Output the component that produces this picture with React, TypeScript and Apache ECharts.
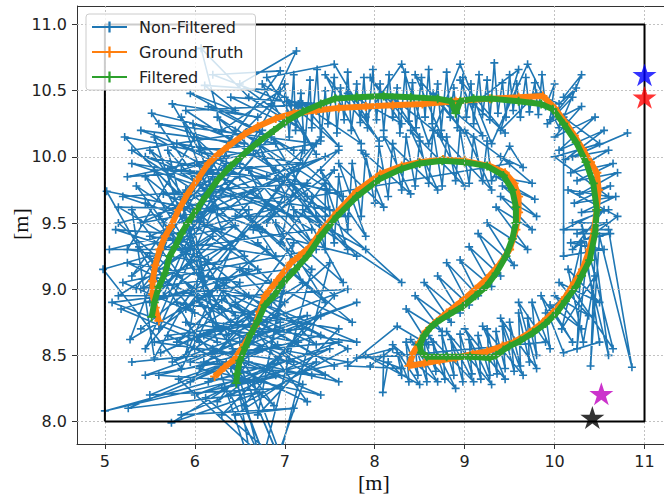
import React, { useEffect, useRef } from "react";
import * as echarts from "echarts";

const xTicks = [5, 6, 7, 8, 9, 10, 11];
const yTicks = [8.0, 8.5, 9.0, 9.5, 10.0, 10.5, 11.0];

const groundTruth: number[][] = [
  [5.6, 8.76], [5.56, 8.86], [5.53, 8.96], [5.53, 9.06], [5.56, 9.18], [5.61, 9.3], [5.67, 9.4], [5.73, 9.47],
  [5.82, 9.6], [5.92, 9.72], [6.03, 9.83], [6.15, 9.95], [6.26, 10.02], [6.37, 10.08], [6.55, 10.17], [6.7, 10.23],
  [6.9, 10.29], [7.1, 10.33], [7.35, 10.35], [7.6, 10.37], [7.9, 10.38], [8.2, 10.39], [8.53, 10.4], [8.9, 10.42],
  [9.28, 10.44], [9.6, 10.45], [9.87, 10.46], [10.0, 10.37], [10.12, 10.26], [10.22, 10.16], [10.31, 10.06],
  [10.4, 9.96], [10.47, 9.88], [10.49, 9.75], [10.47, 9.6], [10.44, 9.45], [10.39, 9.3], [10.31, 9.15],
  [10.22, 9.05], [10.12, 8.94], [10.02, 8.85], [9.87, 8.75], [9.72, 8.67], [9.55, 8.6], [9.42, 8.57],
  [9.25, 8.53], [9.09, 8.51], [8.9, 8.48], [8.72, 8.46], [8.55, 8.44], [8.38, 8.42], [8.43, 8.52], [8.5, 8.6],
  [8.57, 8.68], [8.66, 8.74], [8.8, 8.82], [8.95, 8.9], [9.12, 9.0], [9.25, 9.08], [9.38, 9.18], [9.5, 9.3],
  [9.57, 9.45], [9.6, 9.58], [9.6, 9.7], [9.55, 9.8], [9.45, 9.88], [9.28, 9.93], [9.0, 9.97], [8.76, 9.98],
  [8.5, 9.96], [8.3, 9.93], [8.06, 9.87], [7.8, 9.74], [7.58, 9.58], [7.42, 9.45], [7.28, 9.32], [7.16, 9.25],
  [7.07, 9.2], [6.92, 9.07], [6.78, 8.95], [6.72, 8.83], [6.67, 8.72], [6.55, 8.58], [6.44, 8.47], [6.33, 8.41],
  [6.22, 8.34],
];

const filtered: number[][] = [
  [5.52, 8.79], [5.55, 8.9], [5.6, 9.02], [5.67, 9.12], [5.72, 9.25], [5.78, 9.32], [5.85, 9.42], [5.92, 9.5],
  [6.02, 9.6], [6.12, 9.7], [6.26, 9.83], [6.4, 9.93], [6.56, 10.03], [6.72, 10.12], [6.88, 10.2], [7.02, 10.27],
  [7.2, 10.34], [7.4, 10.4], [7.56, 10.44], [7.8, 10.45], [8.1, 10.46], [8.4, 10.45], [8.7, 10.44], [8.85, 10.42],
  [8.9, 10.33], [8.95, 10.42], [9.1, 10.44], [9.3, 10.44], [9.6, 10.42], [9.85, 10.4], [9.98, 10.36], [10.1, 10.25],
  [10.24, 10.11], [10.35, 9.96], [10.43, 9.8], [10.47, 9.6], [10.45, 9.42], [10.39, 9.22], [10.3, 9.1],
  [10.24, 9.02], [10.12, 8.91], [10.02, 8.82], [9.9, 8.74], [9.76, 8.67], [9.62, 8.61], [9.5, 8.57], [9.43, 8.54],
  [9.35, 8.5], [9.28, 8.48], [9.06, 8.49], [8.8, 8.49], [8.58, 8.49], [8.52, 8.52], [8.5, 8.58], [8.55, 8.65],
  [8.62, 8.71], [8.69, 8.75], [8.83, 8.81], [8.98, 8.87], [9.12, 8.95], [9.24, 9.02], [9.35, 9.12], [9.46, 9.25],
  [9.53, 9.38], [9.57, 9.5], [9.57, 9.62], [9.53, 9.75], [9.43, 9.86], [9.25, 9.93], [9.0, 9.96], [8.75, 9.97],
  [8.5, 9.95], [8.3, 9.91], [8.05, 9.83], [7.8, 9.7], [7.58, 9.55], [7.4, 9.4], [7.25, 9.25], [7.12, 9.15],
  [6.98, 9.05], [6.88, 8.95], [6.78, 8.88], [6.7, 8.76], [6.62, 8.66], [6.56, 8.56], [6.5, 8.46], [6.47, 8.36],
  [6.46, 8.29],
];

const nonFilteredStart: number[][] = [
  [5.4, 8.7], [5.95, 9.0], [5.18, 8.85], [6.05, 8.6], [5.5, 9.25], [4.98, 9.15], [5.85, 8.4], [6.35, 9.05],
  [5.28, 8.62], [5.72, 9.42], [5.12, 9.45], [6.15, 9.22], [5.55, 8.48], [5.3, 9.6], [6.25, 8.72], [5.88, 9.62],
  [5.02, 9.74], [5.62, 9.02], [6.45, 9.48], [5.38, 9.32], [6.0, 8.82], [5.2, 9.05], [6.55, 9.25], [5.45, 9.85],
  [5.95, 9.3], [5.15, 9.62], [6.6, 9.6], [5.7, 9.2], [6.2, 9.85], [5.3, 9.95], [6.4, 9.7], [5.65, 9.72],
  [6.75, 9.45], [5.5, 10.05], [6.1, 9.5], [5.22, 10.15], [6.35, 10.0], [5.85, 9.9], [6.8, 9.85], [5.4, 10.2],
  [6.55, 10.1], [5.98, 10.25], [6.25, 9.6], [5.52, 10.33], [6.9, 10.1], [6.05, 10.05], [5.75, 10.4], [6.7, 10.3],
  [6.15, 10.38], [7.1, 10.05], [5.95, 10.48], [6.45, 10.35], [6.11, 10.54], [6.95, 10.5], [6.3, 10.2],
  [6.07, 10.82], [6.6, 10.45], [7.2, 10.2], [6.5, 10.55], [7.13, 10.8], [6.85, 10.4],
];

const nonFilteredStartExtra: number[][] = [
  [5.6, 9.55], [6.3, 8.85], [5.25, 9.2], [6.5, 9.05], [5.8, 8.6], [6.6, 8.95], [5.15, 8.95], [6.2, 9.4],
  [5.5, 8.9], [6.7, 9.15], [5.35, 9.78], [6.05, 9.15], [5.9, 8.5], [6.4, 9.3], [5.05, 9.3], [6.85, 9.6],
  [5.7, 9.9], [6.5, 9.85], [5.4, 9.5], [7.0, 9.7], [5.8, 10.1], [7.2, 9.95], [5.25, 9.85], [6.65, 10.05],
  [5.6, 10.25], [7.35, 10.1], [6.0, 9.95], [7.1, 9.55], [5.45, 10.0], [7.5, 9.75], [6.25, 10.3], [6.9, 9.9],
  [5.9, 10.35], [7.4, 10.4], [6.4, 10.45], [7.0, 10.25], [6.75, 10.55], [7.25, 10.35], [6.2, 10.62],
  [6.95, 10.65],
];

const nonFilteredLeftExtra: number[][] = [
  [5.3, 9.1], [6.2, 9.6], [5.6, 8.7], [6.8, 9.3], [5.45, 9.65], [6.4, 8.75], [5.15, 9.5], [6.65, 9.75],
  [5.75, 9.3], [7.3, 9.45], [5.55, 10.15], [6.15, 8.95], [5.9, 9.75], [7.05, 9.15], [5.35, 9.0], [6.45, 10.2],
  [5.65, 8.95], [7.25, 9.8], [5.2, 9.7], [6.3, 9.45], [5.85, 10.3], [6.9, 9.25], [5.5, 9.4], [7.45, 10.0],
  [6.1, 9.7], [5.3, 10.05], [6.75, 10.2], [5.95, 9.45], [7.15, 10.4], [5.4, 9.0], [6.55, 9.4], [5.7, 10.05],
  [6.25, 8.6], [5.08, 8.9], [6.85, 9.05], [5.55, 9.9], [6.45, 8.8], [5.8, 9.1], [7.35, 9.3], [6.0, 10.15],
  [5.25, 9.3], [6.6, 9.15], [5.9, 8.85], [7.1, 9.9], [5.45, 8.55], [6.35, 9.95], [5.65, 9.5], [6.95, 8.75],
  [5.75, 8.45], [7.2, 9.05],
  [6.6, 9.9], [7.3, 9.35], [6.7, 10.1], [7.5, 9.6], [6.55, 9.7], [7.6, 10.05], [6.8, 9.5], [7.4, 10.15],
  [6.9, 9.75], [7.7, 9.55], [6.45, 9.55], [7.2, 10.05], [6.95, 9.35], [7.55, 9.9], [6.65, 9.45], [7.8, 9.25],
  [7.0, 9.85], [7.45, 9.45], [6.75, 10.0], [7.9, 9.3], [7.1, 9.6], [8.3, 9.05], [7.25, 9.7], [6.85, 10.15],
  [7.65, 9.7], [6.5, 9.95],
];

const nonFilteredTop: number[][] = [
  [7.0, 10.55], [7.05, 10.15], [7.1, 10.62], [7.12, 10.2], [7.18, 10.48], [7.22, 10.05], [7.28, 10.58],
  [7.3, 10.22], [7.36, 10.66], [7.4, 10.12], [7.45, 10.5], [7.48, 10.25], [7.55, 10.6], [7.58, 10.18],
  [7.62, 10.52], [7.66, 10.28], [7.7, 10.64], [7.74, 10.2], [7.8, 10.55], [7.84, 10.26], [7.88, 10.6],
  [7.92, 10.22], [7.98, 10.66], [8.02, 10.28], [8.06, 10.55], [8.1, 10.2], [8.16, 10.62], [8.2, 10.3],
  [8.25, 10.52], [8.28, 10.18], [8.34, 10.64], [8.38, 10.27], [8.42, 10.56], [8.46, 10.22], [8.52, 10.6],
  [8.56, 10.3], [8.6, 10.66], [8.64, 10.25], [8.7, 10.55], [8.74, 10.2], [8.8, 10.64], [8.84, 10.3],
  [8.88, 10.52], [8.92, 10.22], [8.98, 10.6], [9.02, 10.3], [9.07, 10.55], [9.1, 10.25], [9.16, 10.62],
  [9.2, 10.32], [9.25, 10.58], [9.28, 10.28], [9.33, 10.71], [9.37, 10.33], [9.42, 10.56], [9.46, 10.3],
  [9.5, 10.62], [9.54, 10.35], [9.58, 10.55], [9.62, 10.3], [9.68, 10.6], [9.72, 10.34], [9.78, 10.56],
  [9.82, 10.32], [9.86, 10.62], [9.9, 10.38], [10.0, 10.55], [9.95, 10.28], [10.24, 10.52], [10.05, 10.4],
];

const nonFilteredTopExtra: number[][] = [
  [9.8, 10.48], [9.4, 10.2], [9.6, 10.66], [9.1, 10.4], [9.45, 10.18], [8.95, 10.58], [9.2, 10.16],
  [8.65, 10.48], [9.0, 10.18], [8.45, 10.62], [8.75, 10.15], [8.2, 10.45], [8.5, 10.15], [7.95, 10.6],
  [8.3, 10.25], [7.7, 10.48], [8.05, 10.12], [7.45, 10.62], [7.85, 10.1], [7.2, 10.4], [7.6, 10.08],
  [7.0, 10.45], [7.35, 10.02], [6.8, 10.6], [7.55, 10.7], [7.9, 10.3], [8.3, 10.7], [8.6, 10.1],
  [8.95, 10.7], [9.3, 10.1], [9.7, 10.7], [10.05, 10.22], [10.3, 10.62], [10.1, 10.45],
];

const nonFilteredRight: number[][] = [
  [10.2, 10.45], [9.92, 10.25], [10.3, 10.38], [10.0, 10.15], [10.45, 10.3], [10.05, 10.05], [10.55, 10.2],
  [10.12, 9.98], [10.81, 10.18], [10.2, 10.0], [10.6, 10.05], [10.18, 9.88], [10.65, 9.95], [10.25, 9.82],
  [10.7, 9.88], [10.28, 9.72], [10.62, 9.78], [10.22, 9.65], [10.68, 9.7], [10.3, 9.58], [10.6, 9.6],
  [10.2, 9.5], [10.58, 9.5], [10.25, 9.42], [10.62, 9.42], [10.18, 9.35], [10.55, 9.3], [10.1, 9.25],
  [10.1, 10.3], [10.5, 10.1], [10.0, 10.0], [10.6, 9.7], [10.15, 9.75], [10.7, 9.55], [10.2, 9.3],
  [10.55, 9.6], [10.1, 9.45],
  [10.6, 9.45], [10.86, 8.41], [10.5, 9.4], [10.4, 8.42], [10.45, 9.3], [10.6, 8.5], [10.35, 9.2],
  [10.25, 8.55], [10.3, 9.35], [10.08, 8.7], [10.45, 9.1], [10.32, 8.6], [10.15, 9.15], [10.5, 8.9],
  [10.05, 9.05], [10.38, 8.8], [10.0, 8.95], [10.3, 8.7], [9.95, 8.88], [10.2, 8.6], [9.85, 8.95], [10.1, 8.52],
  [10.5, 8.6], [10.3, 9.5], [10.65, 8.55], [10.2, 9.0],
];

const nonFilteredBottom: number[][] = [
  [9.9, 8.82], [9.95, 8.55], [9.75, 8.9], [9.8, 8.5], [9.7, 8.78], [9.72, 8.45], [9.6, 8.82], [9.62, 8.42],
  [9.5, 8.75], [9.55, 8.38], [9.42, 8.72], [9.45, 8.4], [9.35, 8.68], [9.36, 8.36], [9.25, 8.7], [9.28, 8.35],
  [9.15, 8.65], [9.18, 8.32], [9.05, 8.62], [9.08, 8.36], [8.95, 8.66], [8.98, 8.3], [8.85, 8.62], [8.88, 8.35],
  [8.75, 8.65], [8.78, 8.32], [8.65, 8.6], [8.68, 8.38], [8.55, 8.62], [8.58, 8.3], [8.45, 8.58], [8.48, 8.35],
  [8.35, 8.6], [8.38, 8.3], [8.25, 8.52], [8.3, 8.35], [8.15, 8.45], [8.09, 8.22], [8.1, 8.5], [7.95, 8.42],
  [8.2, 8.55], [7.8, 8.48], [8.3, 8.5],
  [9.9, 8.6], [9.6, 8.9], [9.8, 8.4], [9.4, 8.78], [9.65, 8.35], [9.2, 8.72], [9.45, 8.32], [9.0, 8.7],
  [9.3, 8.28], [8.8, 8.68], [9.1, 8.3], [8.6, 8.65], [8.9, 8.25], [8.4, 8.62], [8.7, 8.3], [8.2, 8.58],
  [8.5, 8.28], [7.9, 8.5], [8.3, 8.4], [7.7, 8.42],
];

const nonFilteredInner: number[][] = [
  [8.25, 8.72], [8.6, 8.58], [8.35, 8.85], [8.75, 8.68], [8.45, 8.95], [8.85, 8.75], [8.55, 9.05], [8.95, 8.82],
  [8.7, 9.1], [9.05, 8.88], [8.8, 9.2], [9.15, 8.95], [8.95, 9.22], [9.3, 9.02], [9.05, 9.32], [9.4, 9.1],
  [9.15, 9.42], [9.55, 9.18], [9.25, 9.5], [9.7, 9.3], [9.35, 9.62], [9.75, 9.45], [9.4, 9.7],
  [9.8, 9.55], [9.42, 9.78], [9.78, 9.68], [9.35, 9.85], [9.75, 9.8], [9.4, 10.0], [9.65, 9.92], [9.5, 10.08],
  [9.3, 9.82],
  [9.25, 10.12], [9.2, 9.82], [9.1, 10.15], [9.05, 9.8], [8.95, 10.2], [8.9, 9.82], [8.8, 10.15], [8.75, 9.78],
  [8.65, 10.2], [8.6, 9.8], [8.5, 10.12], [8.45, 9.78], [8.35, 10.15], [8.3, 9.75], [8.2, 10.1], [8.15, 9.7],
  [8.05, 10.08], [8.0, 9.65], [7.9, 10.02], [7.85, 9.55], [7.75, 9.95], [7.7, 9.45], [7.6, 9.85], [7.55, 9.35],
  [7.45, 9.8], [7.45, 9.3], [7.3, 9.7],
  [9.5, 9.95], [9.0, 10.2], [9.3, 9.75], [8.7, 10.18], [9.0, 9.78], [8.4, 10.2], [8.7, 9.75], [8.1, 10.15],
  [8.4, 9.72], [7.85, 10.05], [8.1, 9.62], [7.6, 9.95], [7.9, 9.4], [7.4, 9.9], [7.7, 9.3], [7.35, 9.55],
];

const nonFilteredEnd: number[][] = [
  [7.2, 9.6], [7.65, 9.05], [6.9, 9.5], [7.45, 8.9], [6.7, 9.35], [7.75, 8.75], [6.5, 9.15], [7.35, 8.58],
  [6.3, 8.92], [7.55, 8.42], [6.62, 8.78], [6.0, 8.62], [7.2, 8.28], [6.8, 7.5], [6.42, 8.55], [7.05, 7.55],
  [5.82, 8.32], [6.92, 8.58], [5.26, 8.1], [6.72, 8.22], [5.74, 7.99], [6.52, 8.32], [5.0, 8.08], [7.02, 8.46],
  [6.12, 8.18], [6.95, 7.7], [6.32, 8.72], [5.62, 8.52], [6.85, 8.9], [6.05, 8.4], [7.4, 8.2], [6.2, 8.55],
  [6.65, 7.6], [6.48, 8.28], [5.9, 8.75], [7.15, 8.6], [6.25, 8.15], [6.6, 8.45], [7.6, 8.3], [6.05, 8.9],
  [6.88, 8.12], [6.35, 8.45], [5.45, 8.35], [6.7, 8.65], [6.15, 8.3], [7.5, 8.55], [6.4, 8.2], [6.75, 7.7],
];

const nonFilteredEndExtra: number[][] = [
  [7.3, 9.15], [6.6, 9.55], [7.55, 8.95], [6.8, 8.4], [7.1, 9.35], [6.35, 8.65], [7.7, 9.0], [6.55, 8.95],
  [7.8, 8.6], [6.2, 8.75], [7.45, 8.35], [5.95, 8.45], [7.25, 8.8], [5.7, 8.65], [6.95, 8.25], [5.5, 8.2],
  [6.75, 8.55], [5.3, 8.45], [7.6, 8.6], [6.0, 8.2], [7.35, 8.45], [6.45, 8.05], [7.1, 8.1], [5.85, 8.05],
  [6.9, 8.35], [6.3, 8.25], [7.7, 8.45], [6.1, 8.65], [7.2, 8.7], [6.55, 8.12], [6.85, 7.6], [6.4, 8.4],
  [7.0, 8.9], [6.25, 9.0], [7.4, 8.65], [5.6, 8.35], [6.65, 8.3], [6.95, 7.75],
  [7.5, 9.2], [6.5, 8.6], [7.8, 8.9], [6.1, 8.45], [7.3, 8.35], [5.8, 8.9], [7.6, 8.7], [6.7, 8.05],
  [7.0, 9.1], [5.95, 8.3], [7.4, 8.8], [6.3, 8.05], [7.7, 8.55], [6.15, 9.1], [7.1, 8.45], [5.55, 8.6],
  [6.8, 8.75], [6.45, 8.9], [7.25, 8.15], [6.0, 8.55],
];

const nonFiltered: number[][] = [
  ...nonFilteredStart,
  ...nonFilteredStartExtra,
  ...nonFilteredLeftExtra,
  ...nonFilteredTop,
  ...nonFilteredTopExtra,
  ...nonFilteredRight,
  ...nonFilteredBottom,
  ...nonFilteredInner,
  ...nonFilteredEnd,
  ...nonFilteredEndExtra,
];

const boxCorners: number[][] = [[5, 8], [11, 8], [11, 11], [5, 11], [5, 8]];

const starPoints = [
  { name: "blue", value: [11.0, 10.62], color: "#0000ff" },
  { name: "red", value: [11.0, 10.45], color: "#ff0000" },
  { name: "magenta", value: [10.52, 8.21], color: "#bf00bf" },
  { name: "black", value: [10.42, 8.03], color: "#000000" },
];

const PLUS = "path://M4,0H6V4H10V6H6V10H4V6H0V4H4Z";
const STAR =
  "path://M50,0L61.23,34.55L97.55,34.55L68.16,55.9L79.39,90.45L50,69.1L20.61,90.45L31.84,55.9L2.45,34.55L38.77,34.55Z";

export default function App() {
  const ref = useRef<HTMLDivElement>(null);
  useEffect(() => {
    if (!ref.current) return;
    const chart = echarts.init(ref.current, null, { renderer: "svg" });
    const tickFont = { fontFamily: "DejaVu Sans", fontSize: 16, color: "#222" };
    chart.setOption({
      animation: false,
      backgroundColor: "#ffffff",
      grid: { left: 77, top: 6, width: 590, height: 438 },
      xAxis: {
        type: "value",
        min: 4.69,
        max: 11.25,
        axisLine: { show: true, lineStyle: { color: "#333", width: 1 } },
        axisTick: { show: true, length: 5, customValues: xTicks, lineStyle: { color: "#333" } },
        axisLabel: { ...tickFont, margin: 9, customValues: xTicks, formatter: (v: number) => String(v) },
        splitLine: { show: false },
      },
      yAxis: {
        type: "value",
        min: 7.83,
        max: 11.14,
        axisLine: { show: true, lineStyle: { color: "#333", width: 1 } },
        axisTick: { show: true, length: 5, customValues: yTicks, lineStyle: { color: "#333" } },
        axisLabel: { ...tickFont, margin: 10, customValues: yTicks, formatter: (v: number) => v.toFixed(1) },
        splitLine: { show: false },
      },
      legend: {
        data: ["Non-Filtered", "Ground Truth", "Filtered"],
        orient: "vertical",
        left: 86,
        top: 14,
        z: 20,
        itemWidth: 35,
        itemHeight: 14,
        itemGap: 9,
        padding: [5, 12, 5, 5],
        backgroundColor: "rgba(255,255,255,0.8)",
        borderColor: "#cccccc",
        borderWidth: 1,
        borderRadius: 3,
        lineStyle: { width: 2 },
        textStyle: { fontFamily: "DejaVu Sans", fontSize: 16, color: "#222", padding: [0, 0, 0, 7] },
      },
      graphic: [
        {
          type: "text",
          left: 358,
          top: 471,
          style: { text: "[m]", font: '22px "Liberation Serif"', fill: "#111" },
        },
        {
          type: "text",
          x: 9,
          y: 240,
          rotation: Math.PI / 2,
          style: { text: "[m]", font: '22px "Liberation Serif"', fill: "#111" },
        },
        {
          type: "line",
          shape: { x1: 77, y1: 6.5, x2: 664, y2: 6.5 },
          style: { stroke: "#333", lineWidth: 1 },
        },
      ],
      series: [
        {
          name: "gridlines",
          type: "line",
          data: [[4.69, 7.83]],
          symbol: "none",
          silent: true,
          z: 1,
          lineStyle: { opacity: 0 },
          markLine: {
            silent: true,
            symbol: "none",
            label: { show: false },
            lineStyle: { color: "#bbbbbb", type: [2, 2], width: 0.9 },
            data: [...xTicks.map((v) => ({ xAxis: v })), ...yTicks.map((v) => ({ yAxis: v }))],
          },
        },
        {
          name: "Non-Filtered",
          type: "line",
          data: nonFiltered,
          z: 2,
          symbol: PLUS,
          symbolSize: 8,
          showSymbol: true,
          lineStyle: { color: "#1f77b4", width: 1.6 },
          itemStyle: { color: "#1f77b4", borderWidth: 0 },
        },
        {
          name: "Ground Truth",
          type: "line",
          data: groundTruth,
          z: 3,
          symbol: PLUS,
          symbolSize: 9,
          showSymbol: true,
          lineStyle: { color: "#ff7f0e", width: 6 },
          itemStyle: { color: "#ff7f0e", borderWidth: 0 },
        },
        {
          name: "Filtered",
          type: "line",
          data: filtered,
          z: 4,
          symbol: PLUS,
          symbolSize: 9,
          showSymbol: true,
          lineStyle: { color: "#2ca02c", width: 6 },
          itemStyle: { color: "#2ca02c", borderWidth: 0 },
        },
        {
          name: "box",
          type: "line",
          data: boxCorners,
          z: 5,
          symbol: "none",
          silent: true,
          lineStyle: { color: "#000", width: 2 },
        },
        {
          name: "stars",
          type: "scatter",
          z: 6,
          symbol: STAR,
          symbolSize: 24,
          symbolKeepAspect: true,
          data: starPoints.map((s) => ({ value: s.value, itemStyle: { color: s.color } })),
        },
      ],
    });
    return () => chart.dispose();
  }, []);
  return (
    <div style={{ position: "fixed", left: 0, top: 0, width: 664, height: 495, overflow: "hidden", background: "#fff" }}>
      <div ref={ref} style={{ width: 690, height: 495 }} />
    </div>
  );
}
